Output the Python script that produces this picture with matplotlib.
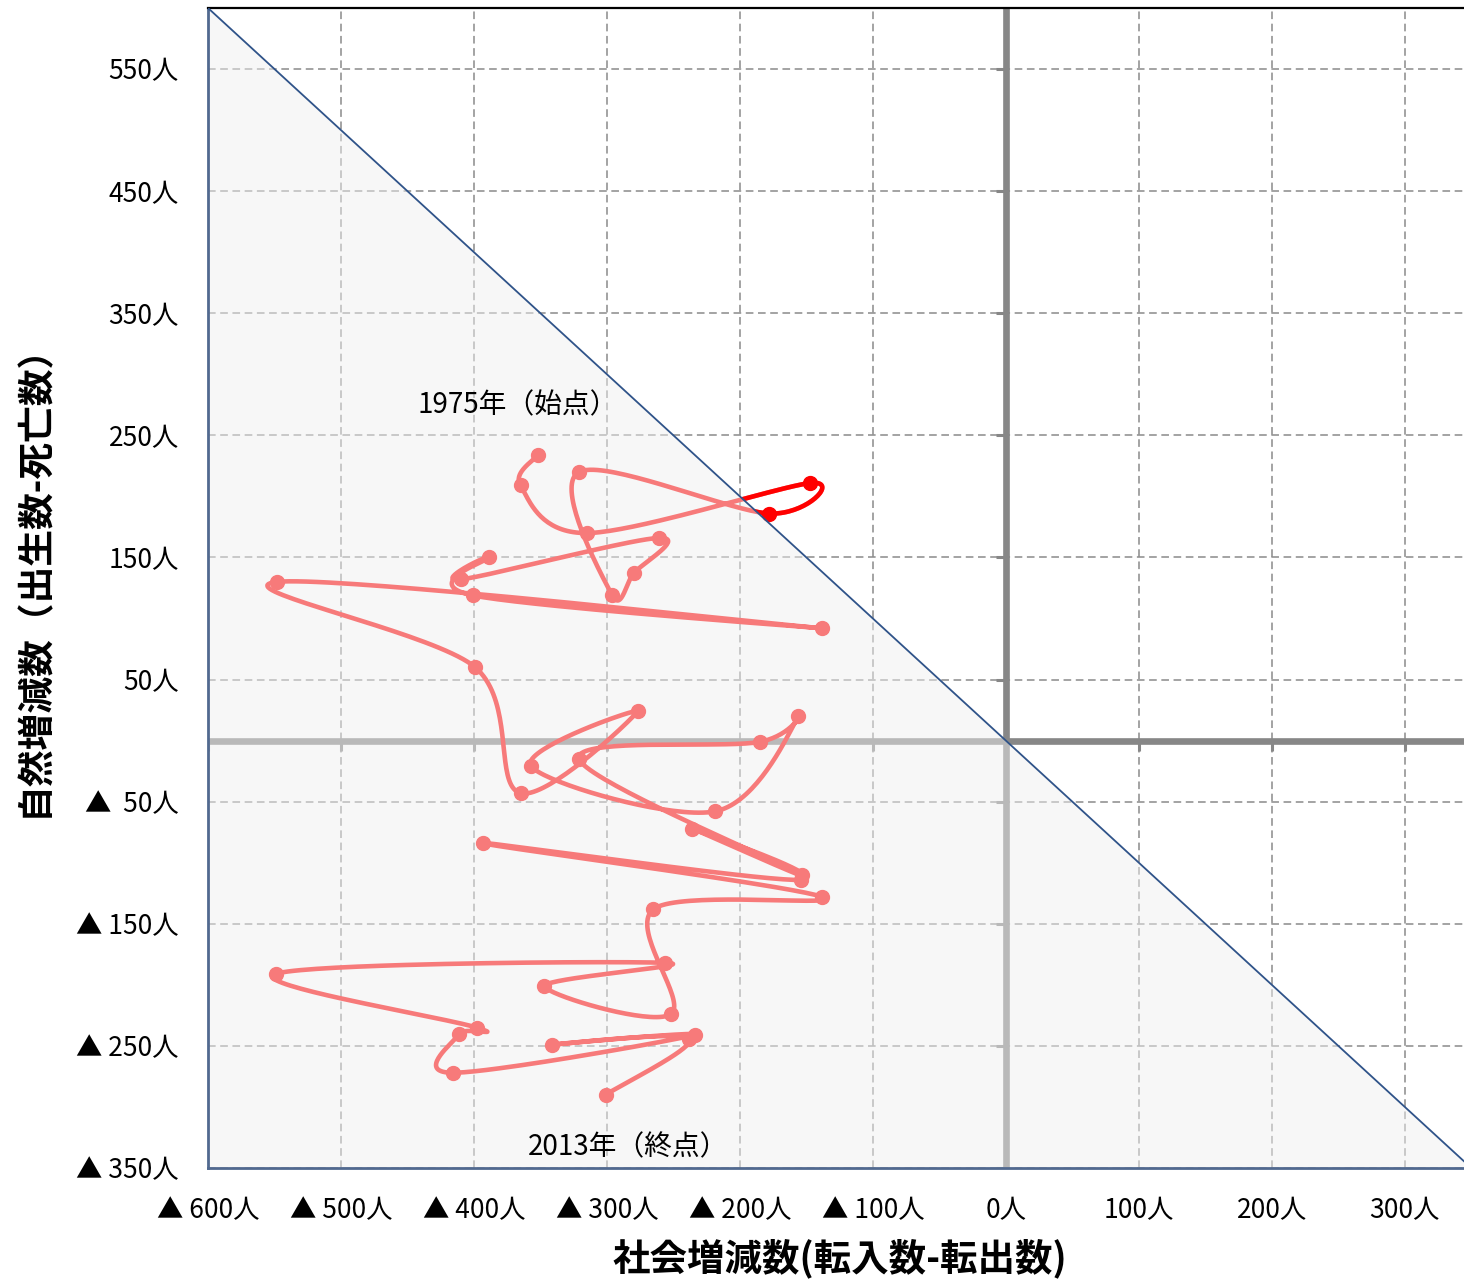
import numpy as np
import matplotlib
matplotlib.use("Agg")
import matplotlib.pyplot as plt
from matplotlib.patches import Polygon

plt.rcParams['font.family'] = ['Noto Sans CJK JP', 'DejaVu Sans']

# ---- data ----
years = list(range(1975, 2014))
social = [-352, -365, -315, -147, -178, -321, -296, -280, -261, -410,
          -389, -401, -138, -548, -399, -365, -277, -357, -219, -156,
          -185, -321, -153, -236, -154, -393, -138, -265, -252, -347,
          -256, -549, -398, -411, -416, -234, -341, -238, -301]
natural = [234, 209, 170, 211, 186, 220, 119, 137, 166, 132,
           150, 119, 92, 130, 60, -43, 24, -21, -58, 20,
           -1, -15, -110, -72, -114, -84, -128, -138, -224, -201,
           -182, -191, -235, -240, -272, -241, -249, -244, -290]

x_ticks = [-600, -500, -400, -300, -200, -100, 0, 100, 200, 300]
y_ticks = [550, 450, 350, 250, 150, 50, -50, -150, -250, -350]
label_start = "1975年（始点）"
label_end = "2013年（終点）"
xlabel = "社会増減数(転入数-転出数)"
ylabel = "自然増減数（出生数-死亡数）"

SALMON = '#F77A7A'
RED = '#FF0000'


def fmt(v):
    if v < 0:
        s = f"{-v}人"
        return ("▲  " if -v < 100 else "▲ ") + s
    return f"{v}人"


def smooth(xs, ys, n=40):
    P = np.column_stack([xs, ys]).astype(float)
    out = []
    for i in range(len(P) - 1):
        p0 = P[i - 1] if i > 0 else P[i]
        p1, p2 = P[i], P[i + 1]
        p3 = P[i + 2] if i + 2 < len(P) else P[i + 1]
        c1 = p1 + (p2 - p0) / 6.0
        c2 = p2 - (p3 - p1) / 6.0
        t = np.linspace(0, 1, n)[:, None]
        seg = (1 - t) ** 3 * p1 + 3 * (1 - t) ** 2 * t * c1 + 3 * (1 - t) * t ** 2 * c2 + t ** 3 * p2
        out.append(seg if i == 0 else seg[1:])
    return np.vstack(out)


fig = plt.figure(figsize=(14.64, 12.81), dpi=100)
fig.patch.set_facecolor('white')
ax = fig.add_axes([208 / 1464, 1 - 1168 / 1281, (1464 - 208) / 1464, (1168 - 8) / 1281])
XMIN, XMAX, YMIN, YMAX = -600, 344.5, -350, 600
ax.set_xlim(XMIN, XMAX)
ax.set_ylim(YMIN, YMAX)

# grid
for xv in x_ticks:
    ax.plot([xv, xv], [YMIN, YMAX], color='#8a8a8a', lw=1.1, ls=(0, (5, 3)), zorder=0.5)
for yv in y_ticks:
    ax.plot([XMIN, XMAX], [yv, yv], color='#8a8a8a', lw=1.1, ls=(0, (5, 3)), zorder=0.5)

# thick zero axes
ax.plot([0, 0], [YMIN, YMAX], color='#878787', lw=4.8, zorder=1, solid_capstyle='butt')
ax.plot([XMIN, XMAX], [0, 0], color='#878787', lw=4.8, zorder=1, solid_capstyle='butt')
ax.plot([0] * len(y_ticks), y_ticks, ls='none', marker=0, ms=7, mew=2.2, color='#878787', zorder=1)
ax.plot(x_ticks, [0] * len(x_ticks), ls='none', marker=3, ms=7, mew=2.2, color='#878787', zorder=1)

# shaded triangle (population decrease region)
tri = Polygon([[-600, 600], [-600, -350], [350, -350]], closed=True,
              facecolor='#EFEFEF', edgecolor='none', alpha=0.49, zorder=2)
ax.add_patch(tri)

# trajectory
curve = smooth(social, natural)
ax.plot(curve[:, 0], curve[:, 1], color=SALMON, lw=3.3, zorder=3, solid_capstyle='round')
upper = Polygon([[-700, 700], [450, -450], [450, 700]], closed=True, transform=ax.transData)
red_line, = ax.plot(curve[:, 0], curve[:, 1], color=RED, lw=3.3, zorder=3.2, solid_capstyle='round')
red_line.set_clip_path(upper)

sx = np.array(social)
ny = np.array(natural)
up = (sx + ny) > 0
ax.plot(sx[~up], ny[~up], ls='none', marker='o', ms=10, color=SALMON, zorder=3.5)
ax.plot(sx[up], ny[up], ls='none', marker='o', ms=10, color=RED, zorder=3.6)

# diagonal
ax.plot([-600, 350], [600, -350], color='#2F5389', lw=1.3, zorder=4)

# annotations
ax.text(-367, 275, label_start, fontsize=20, ha='center', va='center', zorder=5)
ax.text(-284, -333, label_end, fontsize=20, ha='center', va='center', zorder=5)

# ticks
ax.set_xticks(x_ticks)
ax.set_xticklabels([fmt(v) for v in x_ticks], fontsize=19)
ax.set_yticks(y_ticks)
ax.set_yticklabels([fmt(v) for v in y_ticks], fontsize=19)
ax.tick_params(axis='x', length=0, pad=21)
ax.tick_params(axis='y', length=0, pad=21)

for s in ['left', 'bottom']:
    ax.spines[s].set_color('#51698f')
    ax.spines[s].set_linewidth(2.0)
ax.spines['top'].set_color('black')
ax.spines['top'].set_linewidth(1.6)
ax.spines['right'].set_visible(False)
ax.set_facecolor('white')

fig.text(840 / 1464, 1 - 1258 / 1281, xlabel, fontsize=27, fontweight='bold', ha='center', va='center')
fig.text(35 / 1464, 1 - 571 / 1281, ylabel, fontsize=26.5, fontweight='bold', ha='center', va='center', rotation=90)

fig.savefig('out.png', dpi=100, facecolor='white')
